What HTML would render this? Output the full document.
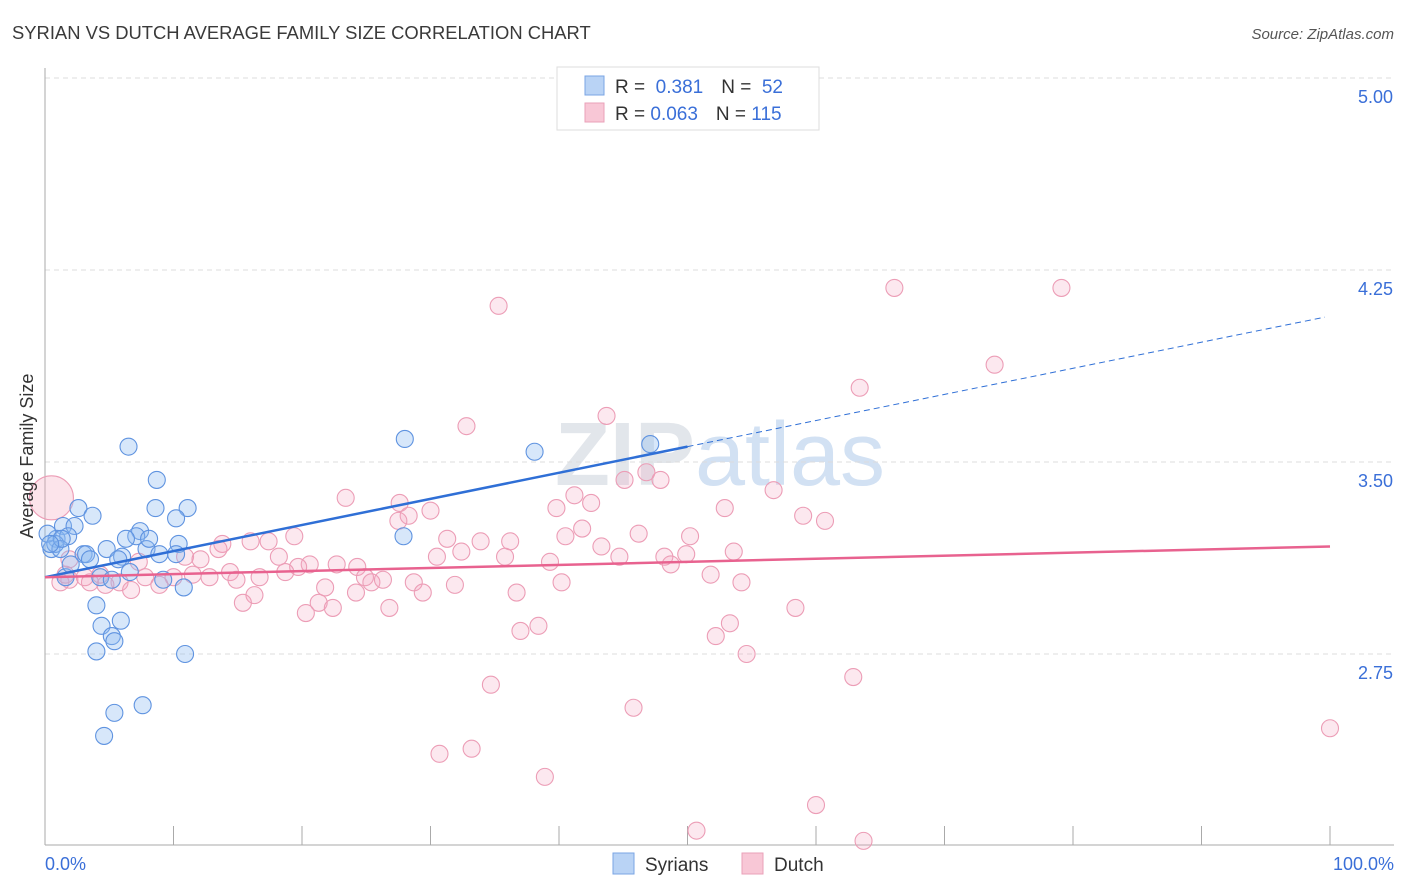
<!DOCTYPE html>
<html><head><meta charset="utf-8"><style>
body{margin:0;background:#fff;font-family:"Liberation Sans",sans-serif}
svg{display:block}
</style></head><body>
<svg id="chart" width="1406" height="892">
<text x="12" y="39" font-size="18.4" fill="#3a3a3a">SYRIAN VS DUTCH AVERAGE FAMILY SIZE CORRELATION CHART</text>
<text x="1394" y="39" font-size="15" fill="#555" font-style="italic" text-anchor="end">Source: ZipAtlas.com</text>
<text x="720" y="485" font-size="90" fill="#e2e6eb" text-anchor="middle" font-weight="bold">ZIP<tspan fill="#d2e1f3" font-weight="normal">atlas</tspan></text>
<g id="grid"></g><g id="axes"></g><g id="pts"></g><g id="lines"></g>
<text x="33" y="456" font-size="18" fill="#333" text-anchor="middle" transform="rotate(-90 33 456)">Average Family Size</text>
<text x="45" y="870" font-size="18" fill="#3a6fd8">0.0%</text>
<text x="1394" y="870" font-size="18" fill="#3a6fd8" text-anchor="end">100.0%</text>
<g>
<rect x="557" y="67" width="262" height="63" fill="#fff" stroke="#ddd"/>
<rect x="585" y="76" width="19" height="19" fill="#b9d3f5" stroke="#7aa5e4"/>
<rect x="585" y="103" width="19" height="19" fill="#f8c7d6" stroke="#eaa1b8"/>
<text x="615" y="93" font-size="19" fill="#333">R = <tspan fill="#3a6fd8">&#160;0.381</tspan><tspan dx="18">N = </tspan><tspan fill="#3a6fd8">&#160;52</tspan></text>
<text x="615" y="120" font-size="19" fill="#333">R = <tspan fill="#3a6fd8">0.063</tspan><tspan dx="18">N = </tspan><tspan fill="#3a6fd8">115</tspan></text>
</g>
<g>
<rect x="613" y="853" width="21" height="21" fill="#b9d3f5" stroke="#7aa5e4"/>
<text x="645" y="871" font-size="19" fill="#333">Syrians</text>
<rect x="742" y="853" width="21" height="21" fill="#f8c7d6" stroke="#eaa1b8"/>
<text x="774" y="871" font-size="19" fill="#333">Dutch</text>
</g>
</svg>
<script>
const yTicks=[5.00,4.25,3.50,2.75];
const xTickPcts=[0,10,20,30,40,50,60,70,80,90,100];
const blueX=[6.5,8.7,2.6,8.6,11.1,3.7,10.2,1.4,7.4,2.3,7.1,6.3,0.9,1.8,4.8,7.9,10.4,3.0,8.9,6.0,5.7,0.5,4.3,1.6,5.2,9.2,10.8,4.0,5.9,4.4,5.2,5.4,4.0,10.9,7.6,5.4,4.6,28.0,38.1,47.1,27.9,0.2,0.8,1.2,3.2,2.0,1.3,0.4,6.6,10.2,3.5,8.1];
const blueY=[3.56,3.43,3.32,3.32,3.32,3.29,3.28,3.25,3.23,3.25,3.21,3.20,3.20,3.21,3.16,3.16,3.18,3.14,3.14,3.13,3.12,3.16,3.05,3.05,3.04,3.04,3.01,2.94,2.88,2.86,2.82,2.80,2.76,2.75,2.55,2.52,2.43,3.59,3.54,3.57,3.21,3.22,3.18,3.16,3.14,3.10,3.20,3.18,3.07,3.14,3.12,3.20];
const pinkX=[35.3,66.1,79.1,73.9,63.4,43.7,32.8,46.8,45.1,47.9,56.7,41.2,23.4,27.6,42.5,39.8,52.9,30.0,28.3,27.5,59.0,60.7,41.8,40.5,46.2,50.2,31.3,33.9,36.2,16.0,19.4,17.4,13.8,43.3,32.4,53.6,49.9,48.2,44.7,30.5,35.8,39.3,13.5,18.2,10.9,12.1,7.3,48.7,22.7,24.3,20.6,19.7,18.7,14.4,16.7,51.8,11.5,10.0,7.8,12.8,24.9,25.4,26.3,28.7,31.9,40.2,54.2,14.9,5.8,4.7,3.5,1.9,1.2,3.1,6.7,8.9,21.8,24.2,16.3,29.4,36.7,15.4,21.3,26.8,22.4,20.3,58.4,53.3,38.4,37.0,52.2,54.6,62.9,34.7,45.8,100,33.2,30.7,38.9,60.0,50.7,63.7,1.9,1.6,4.3];
const pinkY=[4.11,4.18,4.18,3.88,3.79,3.68,3.64,3.46,3.43,3.43,3.39,3.37,3.36,3.34,3.34,3.32,3.32,3.31,3.29,3.27,3.29,3.27,3.24,3.21,3.22,3.21,3.20,3.19,3.19,3.19,3.21,3.19,3.18,3.17,3.15,3.15,3.14,3.13,3.13,3.13,3.13,3.11,3.16,3.13,3.13,3.12,3.11,3.10,3.10,3.09,3.10,3.09,3.07,3.07,3.05,3.06,3.06,3.05,3.05,3.05,3.05,3.03,3.04,3.03,3.02,3.03,3.03,3.04,3.03,3.02,3.03,3.04,3.03,3.05,3.00,3.02,3.01,2.99,2.98,2.99,2.99,2.95,2.95,2.93,2.93,2.91,2.93,2.87,2.86,2.84,2.82,2.75,2.66,2.63,2.54,2.46,2.38,2.36,2.27,2.16,2.06,2.02,3.12,3.06,3.06];
const bigPink=[0.5,3.36];
const blueTrend=[3.05,4.07];
const pinkTrend=[3.05,3.17];
const NS='http://www.w3.org/2000/svg';
const X=p=>45+p*12.85, Y=v=>78+(5-v)*256;
function mk(tag,attrs,parent){const e=document.createElementNS(NS,tag);for(const k in attrs)e.setAttribute(k,attrs[k]);parent.appendChild(e);return e;}
const grid=document.getElementById('grid'),axes=document.getElementById('axes'),pts=document.getElementById('pts'),lines=document.getElementById('lines');
yTicks.forEach(t=>{
 const l=mk('line',{x1:45,x2:1394,y1:Y(t),y2:Y(t),stroke:'#dcdcdc','stroke-dasharray':'5,4'},grid);
 
 
 const tx=mk('text',{x:1393,y:Y(t)+25,'font-size':18,fill:'#3a6fd8','text-anchor':'end'},grid);
 tx.textContent=t.toFixed(2);
 
 
});
const ya=mk('line',{x1:45,x2:45,y1:68,y2:845,stroke:'#aaa'},axes);


const xa=mk('line',{x1:45,x2:1394,y1:845,y2:845,stroke:'#aaa'},axes);


xTickPcts.forEach(p=>{
 const t=mk('line',{x1:X(p),x2:X(p),y1:826,y2:845,stroke:'#aaa'},axes);
 
 
});
pinkX.forEach((x,i)=>{
 const c=mk('circle',{cx:X(x),cy:Y(pinkY[i]),r:8.5,fill:'rgba(245,165,190,0.25)',stroke:'#ec9db6','stroke-width':1.1},pts);
 
 
});
const bp=mk('circle',{cx:X(bigPink[0]),cy:Y(bigPink[1]),r:22,fill:'rgba(245,165,190,0.3)',stroke:'#ec9db6','stroke-width':1.1},pts);


blueX.forEach((x,i)=>{
 const c=mk('circle',{cx:X(x),cy:Y(blueY[i]),r:8.5,fill:'rgba(140,185,240,0.35)',stroke:'#5f93e0','stroke-width':1.1},pts);
 
 
});
const bv=p=>blueTrend[0]+(blueTrend[1]-blueTrend[0])*p/100;
const b1=mk('line',{x1:X(0),y1:Y(bv(0)),x2:X(50),y2:Y(bv(50)),stroke:'#2f6fd6','stroke-width':2.5},lines);


const b2=mk('line',{x1:X(50),y1:Y(bv(50)),x2:X(99.6),y2:Y(bv(99.6)),stroke:'#2f6fd6','stroke-width':1,'stroke-dasharray':'6,4'},lines);


const p1=mk('line',{x1:X(0),y1:Y(pinkTrend[0]),x2:X(100),y2:Y(pinkTrend[1]),stroke:'#e8628f','stroke-width':2.5},lines);


</script>
</body></html>
